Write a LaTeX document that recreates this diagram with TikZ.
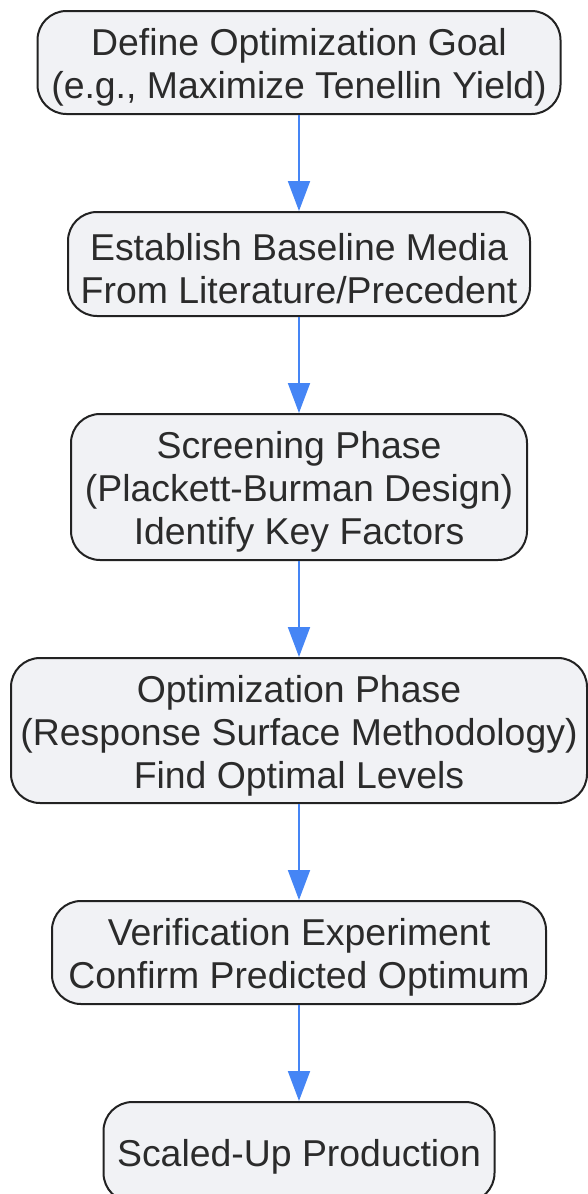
\documentclass[tikz,border=0pt]{standalone}
\usepackage{fontspec}
\setmainfont{Liberation Sans}
\usetikzlibrary{positioning,arrows.meta}
\definecolor{boxfill}{HTML}{F1F2F5}
\definecolor{boxline}{HTML}{222222}
\definecolor{flowblue}{HTML}{4585F5}
\definecolor{inktext}{HTML}{2B2B2B}
\newcommand{\firstline}{\rule{0pt}{37pt}}

\begin{document}
\begin{tikzpicture}
[x=1pt, y=1pt,
node distance=96pt,
stage/.style={draw=boxline, fill=boxfill, line width=2pt, rounded corners=29pt,
  align=center, text=inktext, inner sep=0pt,
  font=\fontsize{37.4}{43}\selectfont},
flow/.style={draw=flowblue, line width=2pt, -{Triangle[length=30pt,width=22pt]}}]
\useasboundingbox (0,0) rectangle (587,-1194);
\node[stage, minimum width=523pt, minimum height=103pt] (goal) at (299,-62.5)
  {\firstline Define Optimization Goal\\(e.g., Maximize Tenellin Yield)};
\node[stage, minimum width=462pt, minimum height=104pt, below=of goal] (baseline)
  {\firstline Establish Baseline Media\\From Literature/Precedent};
\node[stage, minimum width=456pt, minimum height=146pt, below=of baseline] (screening)
  {\firstline Screening Phase\\(Plackett-Burman Design)\\Identify Key Factors};
\node[stage, minimum width=576pt, minimum height=145pt, below=of screening] (rsm)
  {\firstline Optimization Phase\\(Response Surface Methodology)\\Find Optimal Levels};
\node[stage, minimum width=494pt, minimum height=103pt, below=of rsm] (verify)
  {\firstline Verification Experiment\\Confirm Predicted Optimum};
\node[stage, minimum width=391pt, minimum height=100pt, below=of verify] (scaleup)
  {\firstline Scaled-Up Production};
\draw[flow] (goal) -- (baseline);
\draw[flow] (baseline) -- (screening);
\draw[flow] (screening) -- (rsm);
\draw[flow] (rsm) -- (verify);
\draw[flow] (verify) -- (scaleup);
\end{tikzpicture}
\end{document}
